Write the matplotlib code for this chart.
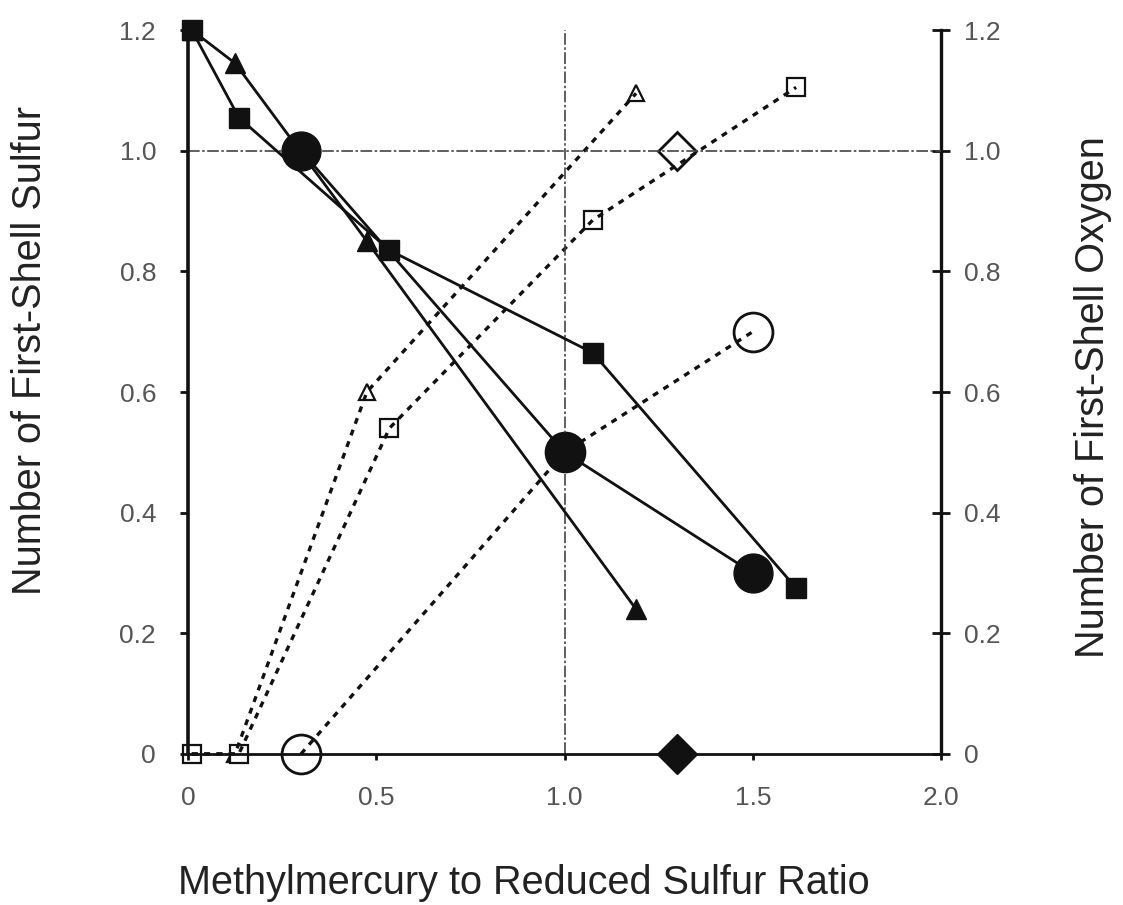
import matplotlib
matplotlib.use("Agg")
import matplotlib.pyplot as plt

plt.rcParams["font.family"] = ["Liberation Sans", "DejaVu Sans"]

# methylmercury : reduced sulfur ratio for each sample series
tri_x = [0.01, 0.125, 0.475, 1.19]
sq_x = [0.01, 0.135, 0.535, 1.075, 1.615]
circ_x = [0.30, 1.00, 1.50]
dia_x = [1.30]

# first-shell sulfur (left axis, filled markers)
tri_s = [1.20, 1.145, 0.85, 0.24]
sq_s = [1.20, 1.055, 0.835, 0.665, 0.275]
circ_s = [1.00, 0.50, 0.30]
dia_s = [0.0]

# first-shell oxygen (right axis, open markers)
tri_o = [0.0, 0.0, 0.60, 1.095]
sq_o = [0.0, 0.0, 0.54, 0.885, 1.105]
circ_o = [0.0, 0.50, 0.70]
dia_o = [1.0]

x_ticks = [0, 0.5, 1.0, 1.5, 2.0]
x_labels = ["0", "0.5", "1.0", "1.5", "2.0"]
y_ticks = [0, 0.2, 0.4, 0.6, 0.8, 1.0, 1.2]
y_labels = ["0", "0.2", "0.4", "0.6", "0.8", "1.0", "1.2"]

INK = "#111111"
TICK_C = "#555555"
LABEL_C = "#222222"
DOT = (0, (1.8, 1.9))

fig = plt.figure(figsize=(11.23, 9.05), dpi=100)
ax = fig.add_axes([0.1674, 0.1669, 0.6706, 0.7999])
ax2 = ax.twinx()

for a in (ax, ax2):
    a.set_xlim(0, 2.0)
    a.set_ylim(0, 1.2)
    a.set_facecolor("none")
    for s in a.spines.values():
        s.set_visible(False)

ax.spines["left"].set_visible(True)
ax.spines["bottom"].set_visible(True)
ax2.spines["right"].set_visible(True)
ax.spines["left"].set_linewidth(2.6)
ax.spines["bottom"].set_linewidth(2.0)
ax2.spines["right"].set_linewidth(2.4)
for s in (ax.spines["left"], ax.spines["bottom"], ax2.spines["right"]):
    s.set_color(INK)

# reference lines at ratio 1 and one neighbour
ax.axvline(1.0, color="#444444", lw=1.2, ls=(0, (7, 1.5, 1.5, 1.5)), zorder=1)
ax.axhline(1.0, color="#444444", lw=1.2, ls=(0, (7, 1.5, 1.5, 1.5)), zorder=1)

# oxygen: dotted lines with open markers
open_kw = dict(mfc="white", mec=INK, clip_on=False, ls="none", zorder=3)
for xs, ys, m, ms, mew in [
    (tri_x, tri_o, "^", 12, 1.6),
    (sq_x, sq_o, "s", 13, 1.6),
    (circ_x, circ_o, "o", 28, 2.0),
]:
    ax2.plot(xs, ys, marker=m, ms=ms, mew=mew, **open_kw)
    ax2.plot(xs, ys, color=INK, lw=2.4, ls=DOT, clip_on=False, zorder=4)
ax2.plot(dia_x, dia_o, marker="D", ms=19, mew=2.0, **open_kw)

# sulfur: solid lines with filled markers
filled_kw = dict(color=INK, lw=2.0, clip_on=False, zorder=5)
ax.plot(tri_x, tri_s, marker="^", ms=14, **filled_kw)
ax.plot(sq_x, sq_s, marker="s", ms=15, **filled_kw)
ax.plot(circ_x, circ_s, marker="o", ms=28, **filled_kw)
ax.plot(dia_x, dia_s, marker="D", ms=20, ls="none", color=INK, clip_on=False, zorder=5)
ax.set_zorder(ax2.get_zorder() + 1)

ax.set_xticks(x_ticks)
ax.set_xticklabels(x_labels)
ax.set_yticks(y_ticks)
ax.set_yticklabels(y_labels)
ax2.set_yticks(y_ticks)
ax2.set_yticklabels(y_labels)

ax.tick_params(axis="x", direction="out", length=4, width=2, color=INK,
               pad=19, labelsize=19, labelcolor=TICK_C)
ax.tick_params(axis="y", direction="out", length=6, width=2, color=INK,
               pad=17, labelsize=19, labelcolor=TICK_C)
ax2.tick_params(axis="y", direction="inout", length=13, width=2, color=INK,
                pad=10, labelsize=19, labelcolor=TICK_C)

fig.text(0.4666, 0.0243, "Methylmercury to Reduced Sulfur Ratio", fontsize=28.5,
         color=LABEL_C, ha="center", va="center")
fig.text(0.0267, 0.613, "Number of First-Shell Sulfur", fontsize=28.5,
         color=LABEL_C, ha="center", va="center", rotation=90)
fig.text(0.9733, 0.5613, "Number of First-Shell Oxygen", fontsize=28.5,
         color=LABEL_C, ha="center", va="center", rotation=90)

fig.savefig("out.png", dpi=100, facecolor="white")
